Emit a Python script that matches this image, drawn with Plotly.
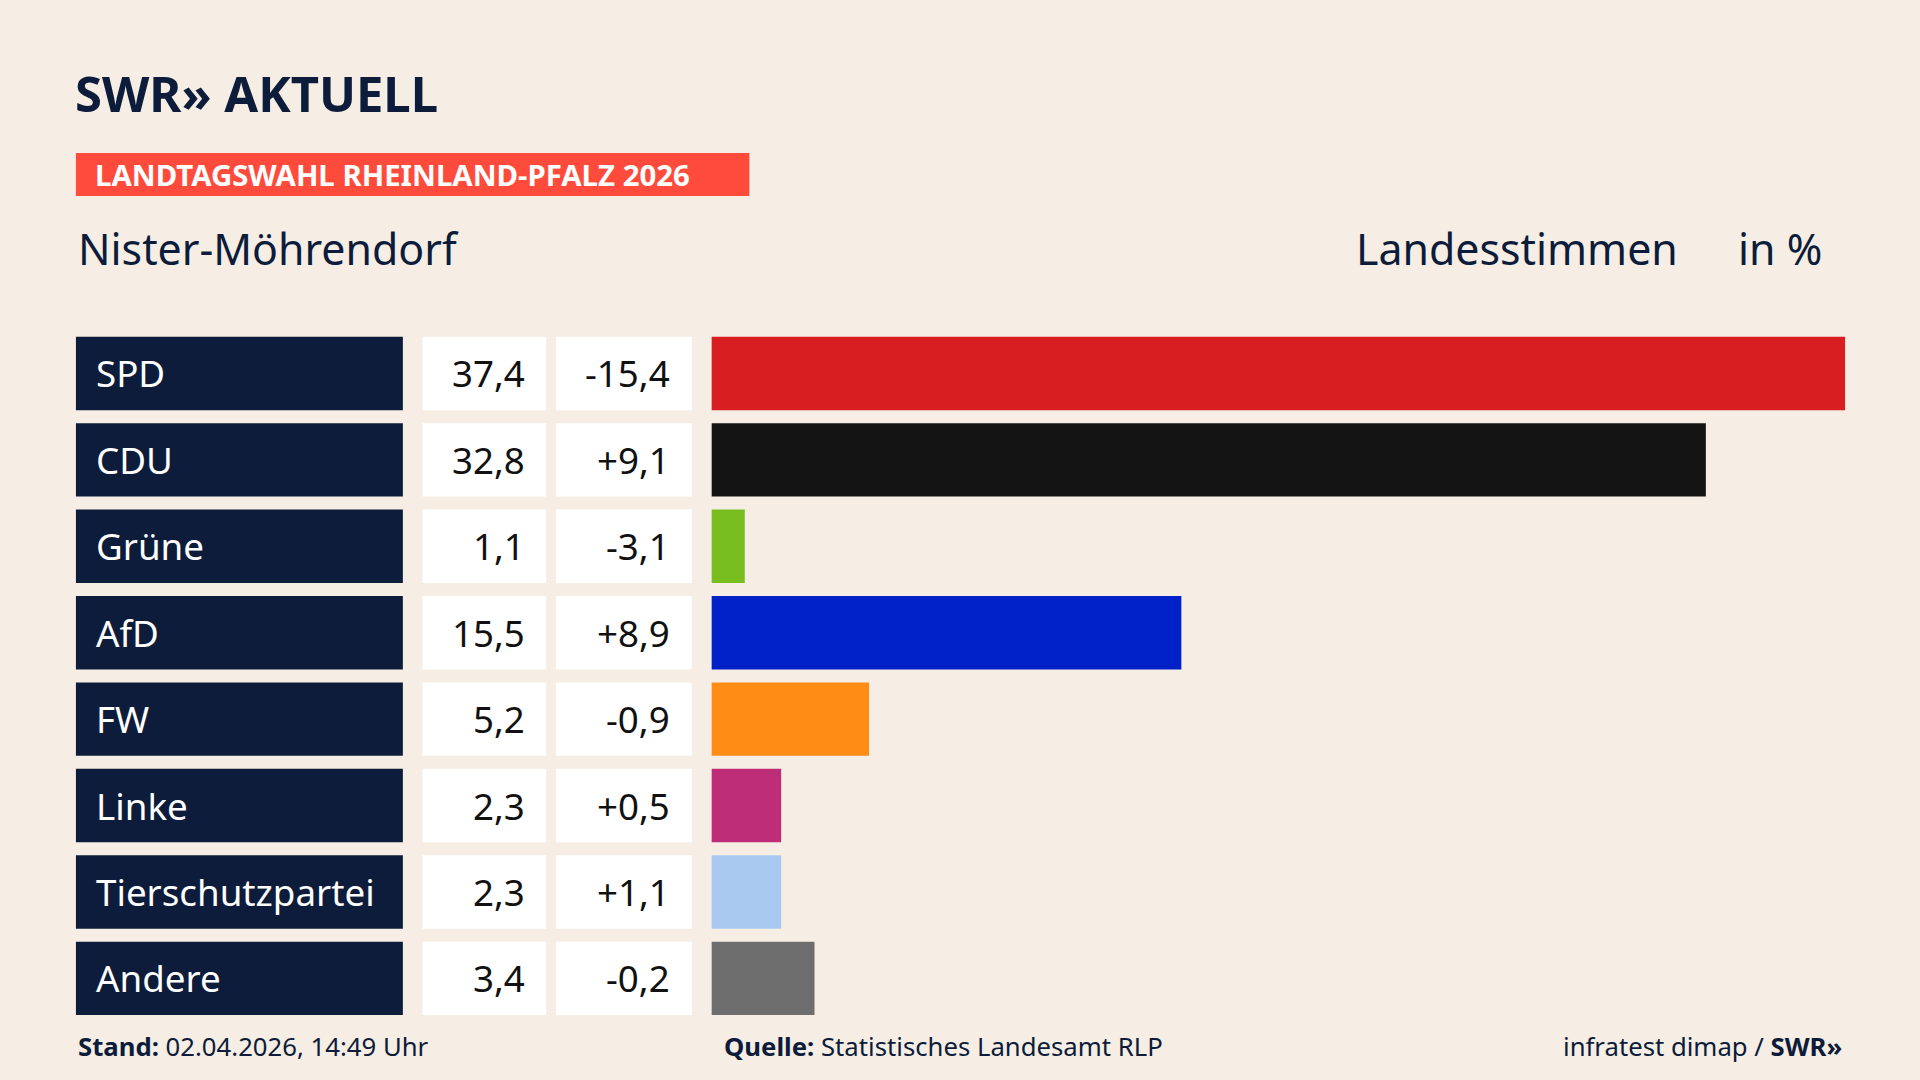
import plotly.graph_objects as go

parties = ["SPD", "CDU", "Grüne", "AfD", "FW", "Linke", "Tierschutzpartei", "Andere"]
shares = [37.4, 32.8, 1.1, 15.5, 5.2, 2.3, 2.3, 3.4]
changes = ["-15,4", "+9,1", "-3,1", "+8,9", "-0,9", "+0,5", "+1,1", "-0,2"]
colors = ["#d81e20", "#141414", "#78be1e", "#0020c8", "#ff8c14", "#be2d78", "#a8c8f0", "#6e6e6e"]

W, H = 1568, 882  # reference pixel grid, mapped to paper
S = 1920 / W
FONT = "Noto Sans"
NAVY = "#0c1c3a"


def px(x):
    return x / W


def py(y):
    return 1 - y / H


rows = list(range(len(parties)))

fig = go.Figure(go.Bar(
    x=shares, y=rows, orientation="h",
    marker=dict(color=colors, line_width=0),
    hoverinfo="skip",
))

shapes = []
annotations = []
for i, p in enumerate(parties):
    for x0, x1, c in [(62, 329, NAVY), (345, 446, "white"), (454, 565, "white")]:
        shapes.append(dict(type="rect", xref="paper", yref="y", x0=px(x0), x1=px(x1),
                           y0=i - 0.425, y1=i + 0.425, fillcolor=c, line_width=0, layer="below"))
    annotations.append(dict(x=px(77), y=i, xref="paper", yref="y", text=p, showarrow=False,
                            xanchor="left", font=dict(family=FONT, size=30 * S, color="white")))
    annotations.append(dict(x=px(430), y=i, xref="paper", yref="y", text=f"{shares[i]:.1f}".replace(".", ","),
                            showarrow=False, xanchor="right", font=dict(family=FONT, size=30 * S, color="#111")))
    annotations.append(dict(x=px(549), y=i, xref="paper", yref="y", text=changes[i],
                            showarrow=False, xanchor="right", font=dict(family=FONT, size=30 * S, color="#111")))

# banner
shapes.append(dict(type="rect", xref="paper", yref="paper", x0=px(62), x1=px(612), y0=py(160), y1=py(125),
                   fillcolor="#ff4b3c", line_width=0))

def txt(x, y, t, size, color="#0c1c3a", anchor="left"):
    annotations.append(dict(x=px(x), y=py(y), xref="paper", yref="paper", text=t, showarrow=False,
                            xanchor=anchor, yanchor="middle", font=dict(family=FONT, size=size * S, color=color)))

txt(60, 76, "<b>SWR» AKTUELL</b>", 40)
txt(76, 143, "<b>LANDTAGSWAHL RHEINLAND-PFALZ 2026</b>", 24, "white")
txt(62, 203, "Nister-Möhrendorf", 35)
txt(1106, 203, "Landesstimmen", 35)
txt(1490, 203, "in %", 35, anchor="right")
txt(62, 855, "<b>Stand:</b> 02.04.2026, 14:49 Uhr", 21)
txt(590, 855, "<b>Quelle:</b> Statistisches Landesamt RLP", 21)
txt(1506, 855, "infratest dimap / <b>SWR»</b>", 21, anchor="right")

fig.update_layout(
    width=1920, height=1080,
    margin=dict(l=0, r=0, t=0, b=0),
    paper_bgcolor="#f6eee4", plot_bgcolor="rgba(0,0,0,0)",
    bargap=0.15, showlegend=False,
    xaxis=dict(domain=[px(581), px(1507)], range=[0, 37.4], visible=False, fixedrange=True),
    yaxis=dict(domain=[py(834.3), py(269.7)], range=[7.5, -0.5], visible=False, fixedrange=True),
    shapes=shapes, annotations=annotations,
)

html_file = "out.html"
fig.write_html(html_file, config={"displayModeBar": False})

# remove default page margin
with open(html_file, "r", encoding="utf-8") as f:
    html_content = f.read()
html_content = html_content.replace("<head>", "<head>\n<style>body{margin:0;background:#f6eee4;}</style>", 1)
with open(html_file, "w", encoding="utf-8") as f:
    f.write(html_content)
